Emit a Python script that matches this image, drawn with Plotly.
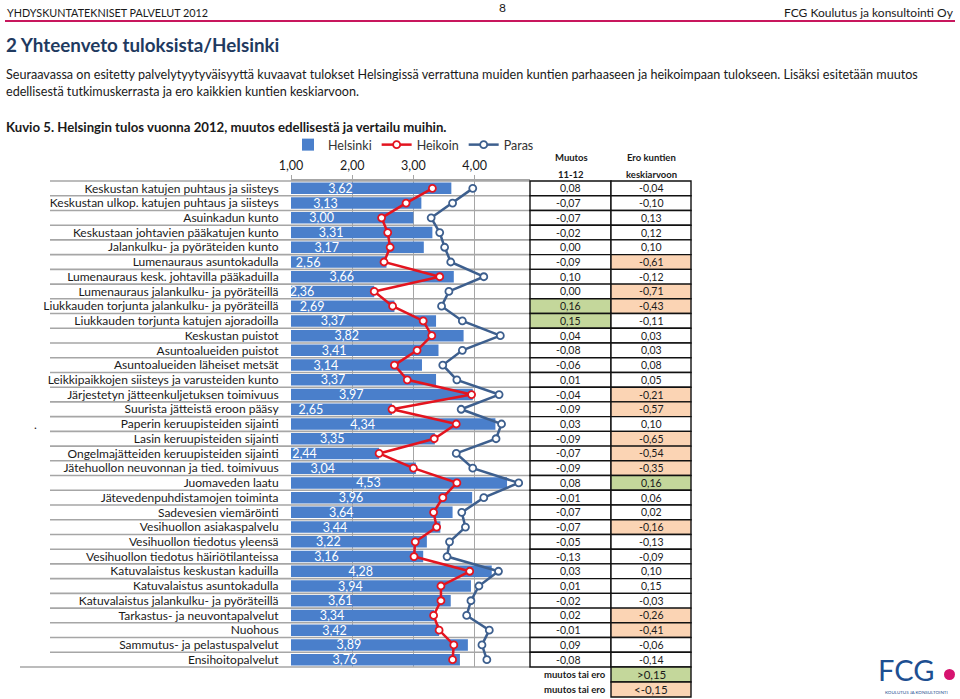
import plotly.graph_objects as go

categories = [
    "Keskustan katujen puhtaus ja siisteys",
    "Keskustan ulkop. katujen puhtaus ja siisteys",
    "Asuinkadun kunto",
    "Keskustaan johtavien pääkatujen kunto",
    "Jalankulku- ja pyöräteiden kunto",
    "Lumenauraus asuntokadulla",
    "Lumenauraus kesk. johtavilla pääkaduilla",
    "Lumenauraus jalankulku- ja pyöräteillä",
    "Liukkauden torjunta jalankulku- ja pyöräteillä",
    "Liukkauden torjunta katujen ajoradoilla",
    "Keskustan puistot",
    "Asuntoalueiden puistot",
    "Asuntoalueiden läheiset metsät",
    "Leikkipaikkojen siisteys ja varusteiden kunto",
    "Järjestetyn jätteenkuljetuksen toimivuus",
    "Suurista jätteistä eroon pääsy",
    "Paperin keruupisteiden sijainti",
    "Lasin keruupisteiden sijainti",
    "Ongelmajätteiden keruupisteiden sijainti",
    "Jätehuollon neuvonnan ja tied. toimivuus",
    "Juomaveden laatu",
    "Jätevedenpuhdistamojen toiminta",
    "Sadevesien viemäröinti",
    "Vesihuollon asiakaspalvelu",
    "Vesihuollon tiedotus yleensä",
    "Vesihuollon tiedotus häiriötilanteissa",
    "Katuvalaistus keskustan kaduilla",
    "Katuvalaistus asuntokadulla",
    "Katuvalaistus jalankulku- ja pyöräteillä",
    "Tarkastus- ja neuvontapalvelut",
    "Nuohous",
    "Sammutus- ja pelastuspalvelut",
    "Ensihoitopalvelut",
]

helsinki = [3.62, 3.13, 3.00, 3.31, 3.17, 2.56, 3.66, 2.36, 2.69, 3.37, 3.82,
            3.41, 3.14, 3.37, 3.97, 2.65, 4.34, 3.35, 2.44, 3.04, 4.53, 3.96,
            3.64, 3.44, 3.22, 3.16, 4.28, 3.94, 3.61, 3.34, 3.42, 3.89, 3.76]

heikoin = [3.31, 2.88, 2.48, 2.58, 2.62, 2.52, 3.43, 2.36, 2.66, 3.16, 3.30,
           3.06, 2.69, 2.90, 3.95, 2.65, 3.70, 3.34, 2.44, 3.00, 3.71, 3.48,
           3.33, 3.38, 3.03, 3.01, 3.92, 3.45, 3.45, 3.33, 3.42, 3.66, 3.64]

paras = [3.97, 3.64, 3.29, 3.43, 3.51, 3.61, 4.15, 3.58, 3.46, 3.80, 4.42,
         3.80, 3.48, 3.71, 4.40, 3.78, 4.44, 4.35, 3.70, 3.97, 4.72, 4.15,
         3.79, 3.85, 3.59, 3.55, 4.39, 4.07, 3.94, 3.87, 4.24, 4.12, 4.20]

muutos = ["0,08", "-0,07", "-0,07", "-0,02", "0,00", "-0,09", "0,10", "0,00",
          "0,16", "0,15", "0,04", "-0,08", "-0,06", "0,01", "-0,04", "-0,09",
          "0,03", "-0,09", "-0,07", "-0,09", "0,08", "-0,01", "-0,07", "-0,07",
          "-0,05", "-0,13", "0,03", "0,01", "-0,02", "0,02", "-0,01", "0,09", "-0,08"]
muutos_flag = ["", "", "", "", "", "", "", "", "+", "+", "", "", "", "", "", "",
               "", "", "", "", "", "", "", "", "", "", "", "", "", "", "", "", ""]

ero = ["-0,04", "-0,10", "0,13", "0,12", "0,10", "-0,61", "-0,12", "-0,71",
       "-0,43", "-0,11", "0,03", "0,03", "0,08", "0,05", "-0,21", "-0,57",
       "0,10", "-0,65", "-0,54", "-0,35", "0,16", "0,06", "0,02", "-0,16",
       "-0,13", "-0,09", "0,10", "0,15", "-0,03", "-0,26", "-0,41", "-0,06", "-0,14"]
ero_flag = ["", "", "", "", "", "-", "", "-", "-", "", "", "", "", "", "-", "-",
            "", "-", "-", "-", "+", "", "", "-", "", "", "", "", "", "-", "-", "", ""]

x_ticks = [1, 2, 3, 4]

W, H = 960, 699
FONT = "Lato"
TXT = "#1a1a1a"
GREEN = "#c4d79b"
ORANGE = "#fbd4b4"

def px(x):
    return x / W

def py(y):
    return 1 - y / H

PLOT_L, PLOT_R, PLOT_T, PLOT_B = 291, 530, 181, 667
n = len(categories)
row_h = (PLOT_B - PLOT_T) / n

def row_top(i):
    return PLOT_T + i * row_h

fig = go.Figure()
fig.add_trace(go.Bar(
    y=categories, x=helsinki, orientation="h", name="Helsinki",
    marker=dict(color="#4a7fcb", line=dict(width=0)), width=0.78,
    text=helsinki, texttemplate="%{x:.2f}", textposition="inside",
    insidetextanchor="middle", textangle=0, constraintext="none",
    textfont=dict(color="white", size=12.5, family=FONT),
))
fig.add_trace(go.Scatter(
    y=categories, x=heikoin, mode="lines+markers", name="Heikoin",
    line=dict(color="#e3141f", width=2.5),
    marker=dict(symbol="circle", size=7, color="white", line=dict(color="#e3141f", width=1.8)),
))
fig.add_trace(go.Scatter(
    y=categories, x=paras, mode="lines+markers", name="Paras",
    line=dict(color="#3d5f8e", width=2.5),
    marker=dict(symbol="circle", size=7, color="white", line=dict(color="#3d5f8e", width=1.8)),
))

shapes = []
for i in range(n + 1):
    y = row_top(i)
    x0 = 50 if i < n else 20
    shapes.append(dict(type="line", xref="paper", yref="paper",
                       x0=px(x0), x1=px(PLOT_R), y0=py(y), y1=py(y),
                       line=dict(color="#a6a6a6", width=1.6), layer="below"))

C0, C1, C2 = 530, 611, 691
annotations = []
for i in range(n):
    yt, yb = row_top(i), row_top(i + 1)
    for (xa, xb, flag) in [(C0, C1, muutos_flag[i]), (C1, C2, ero_flag[i])]:
        fill = GREEN if flag == "+" else (ORANGE if flag == "-" else "white")
        shapes.append(dict(type="rect", xref="paper", yref="paper",
                           x0=px(xa), x1=px(xb), y0=py(yb), y1=py(yt),
                           fillcolor=fill, line=dict(color="#111", width=1.4), layer="above"))
    yc = (yt + yb) / 2
    annotations.append(dict(x=px(583), y=py(yc), xref="paper", yref="paper", text=muutos[i],
                            showarrow=False, xanchor="right", yanchor="middle",
                            font=dict(size=10.5, color=TXT, family=FONT)))
    annotations.append(dict(x=px((C1 + C2) / 2), y=py(yc), xref="paper", yref="paper", text=ero[i],
                            showarrow=False, xanchor="center", yanchor="middle",
                            font=dict(size=10.5, color=TXT, family=FONT)))

for k, (fill, lab) in enumerate([(GREEN, "&gt;0,15"), (ORANGE, "&lt;-0,15")]):
    yt = 667 + k * 15
    yb = yt + 15
    shapes.append(dict(type="rect", xref="paper", yref="paper",
                       x0=px(C1), x1=px(C2), y0=py(yb), y1=py(yt),
                       fillcolor=fill, line=dict(color="#111", width=1.4), layer="above"))
    annotations.append(dict(x=px((C1 + C2) / 2), y=py((yt + yb) / 2), xref="paper", yref="paper",
                            text=lab, showarrow=False, xanchor="center", yanchor="middle",
                            font=dict(size=11.5, color=TXT, family=FONT)))
    annotations.append(dict(x=px(608), y=py((yt + yb) / 2), xref="paper", yref="paper",
                            text="<b>muutos tai ero</b>", showarrow=False, xanchor="right", yanchor="middle",
                            font=dict(size=9.5, color=TXT, family=FONT)))

for (xc, l1, l2) in [(571, "Muutos", "11-12"), (651, "Ero kuntien", "keskiarvoon")]:
    annotations.append(dict(x=px(xc), y=py(158), xref="paper", yref="paper", text="<b>%s</b>" % l1,
                            showarrow=False, xanchor="center", yanchor="middle",
                            font=dict(size=9.5, color=TXT, family=FONT)))
    annotations.append(dict(x=px(xc), y=py(174), xref="paper", yref="paper", text="<b>%s</b>" % l2,
                            showarrow=False, xanchor="center", yanchor="middle",
                            font=dict(size=9.5, color=TXT, family=FONT)))

shapes.append(dict(type="line", xref="paper", yref="paper", x0=px(5), x1=px(955),
                   y0=py(21), y1=py(21), line=dict(color="#c8175d", width=2)))

def page_text(x, y, text, size, anchor="left", color=TXT, bold=False):
    t = "<b>%s</b>" % text if bold else text
    annotations.append(dict(x=px(x), y=py(y), xref="paper", yref="paper", text=t,
                            showarrow=False, xanchor=anchor, yanchor="middle",
                            font=dict(size=size, color=color, family=FONT)))

page_text(5, 12, "YHDYSKUNTATEKNISET PALVELUT 2012", 10.8)
page_text(502, 7, "8", 12, anchor="center")
page_text(956, 13, "FCG Koulutus ja konsultointi Oy", 12, anchor="right")
page_text(4, 45, "2 Yhteenveto tuloksista/Helsinki", 18.8, color="#1f3a60", bold=True)
page_text(4, 74, "Seuraavassa on esitetty palvelytyytyväisyyttä kuvaavat tulokset Helsingissä verrattuna muiden kuntien parhaaseen ja heikoimpaan tulokseen. Lisäksi esitetään muutos", 12.6)
page_text(4, 91, "edellisestä tutkimuskerrasta ja ero kaikkien kuntien keskiarvoon.", 12.6)
page_text(4, 127, "Kuvio 5. Helsingin tulos vuonna 2012, muutos edellisestä ja vertailu muihin.", 13.2, bold=True)
page_text(35, 424, ".", 12, anchor="center")

page_text(906, 669, "FCG", 29, anchor="center", color="#1d4f91")
shapes.append(dict(type="circle", xref="paper", yref="paper", x0=px(944), x1=px(955),
                   y0=py(680), y1=py(669), fillcolor="#d6136f", line=dict(width=0)))
page_text(916, 692, "KOULUTUS JA KONSULTOINTI", 4.5, anchor="center", color="#1d4f91")

fig.update_layout(
    width=W, height=H,
    margin=dict(l=0, r=0, t=0, b=0),
    paper_bgcolor="white", plot_bgcolor="white",
    separators=", ",
    font=dict(family=FONT, size=12, color=TXT),
    barmode="overlay",
    showlegend=True,
    legend=dict(orientation="h", x=px(288), y=py(130), xanchor="left", yanchor="top",
                font=dict(size=12.5, color="#333", family=FONT), itemwidth=30,
                tracegroupgap=0, bgcolor="rgba(0,0,0,0)"),
    xaxis=dict(domain=[px(PLOT_L), px(PLOT_R)], range=[1, 4.905], side="top",
               tickvals=x_ticks, tickformat=".2f", showgrid=True, gridcolor="#a6a6a6",
               gridwidth=1, showline=True, linecolor="#a6a6a6", linewidth=1.5,
               ticks="outside", ticklen=4, tickcolor="#a6a6a6", zeroline=False,
               tickfont=dict(size=12.5, color=TXT, family=FONT), automargin=False, fixedrange=True),
    yaxis=dict(domain=[py(PLOT_B), py(PLOT_T)], range=[n - 0.5, -0.5], type="category",
               tickmode="array", tickvals=categories, ticktext=categories,
               showgrid=False, showline=False, ticks="outside", ticklen=9, tickcolor="rgba(0,0,0,0)",
               tickfont=dict(size=12, color=TXT, family=FONT), automargin=False, fixedrange=True),
    shapes=shapes, annotations=annotations,
)

fig.write_html("out.html", config={"displayModeBar": False},
               post_script="document.body.style.margin='0';document.body.style.overflow='hidden';")
